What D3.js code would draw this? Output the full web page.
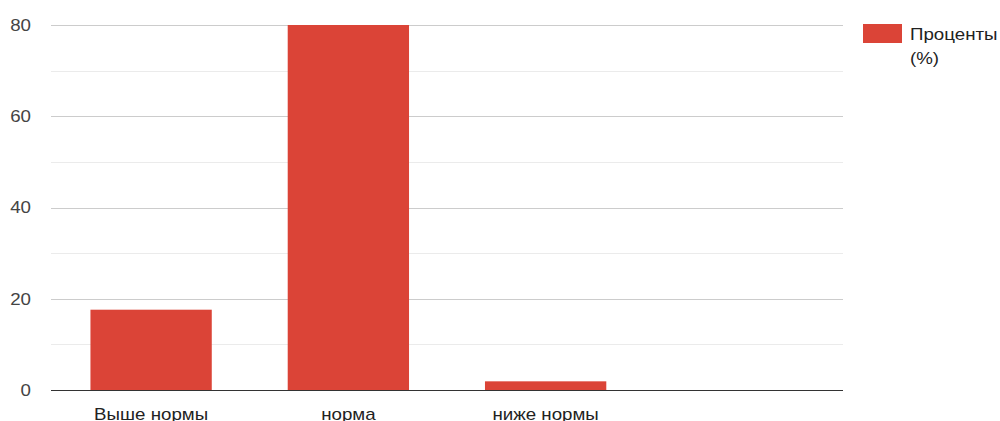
<!DOCTYPE html>
<html>
<head>
<meta charset="utf-8">
<script src="https://cdnjs.cloudflare.com/ajax/libs/d3/7.8.5/d3.min.js"></script>
<style>
  body { margin: 0; background: #fff; }
  text { font-family: "Liberation Sans", Arial, sans-serif; }
</style>
</head>
<body>
<script>
var categories = ["Выше нормы", "норма", "ниже нормы", ""];
var values = [17.6, 80, 1.9, null];
var yTicks = [0, 20, 40, 60, 80];
var yMinor = [10, 30, 50, 70];
var seriesName = ["Проценты", "(%)"];

var width = 1000, height = 421;
var plotLeft = 51, plotRight = 843, plotTop = 25, plotBottom = 390;
var barColor = "#db4437";
var stretch = 1.17; // reference glyphs are drawn a little wide

var svg = d3.select("body").append("svg")
	.attr("width", width)
	.attr("height", height);

var x = d3.scaleBand().domain(categories).range([plotLeft, plotRight]).paddingInner(0.385).paddingOuter(0.2);
var y = d3.scaleLinear().domain([0, 80]).range([plotBottom, plotTop]);

// minor gridlines
svg.selectAll("line.minor")
	.data(yMinor)
	.enter().append("line")
	.attr("x1", plotLeft).attr("x2", plotRight)
	.attr("y1", function (d) { return Math.round(y(d)) + 0.5; })
	.attr("y2", function (d) { return Math.round(y(d)) + 0.5; })
	.style("stroke", "#ebebeb");

// major gridlines
svg.selectAll("line.major")
	.data(yTicks.filter(function (d) { return d > 0; }))
	.enter().append("line")
	.attr("x1", plotLeft).attr("x2", plotRight)
	.attr("y1", function (d) { return Math.round(y(d)) + 0.5; })
	.attr("y2", function (d) { return Math.round(y(d)) + 0.5; })
	.style("stroke", "#cccccc");

// bars
svg.selectAll("rect.bar")
	.data(categories.map(function (c, i) { return {c: c, v: values[i]}; }).filter(function (d) { return d.v != null; }))
	.enter().append("rect")
	.attr("x", function (d) { return x(d.c); })
	.attr("width", x.bandwidth())
	.attr("y", function (d) { return y(d.v); })
	.attr("height", function (d) { return y(0) - y(d.v); })
	.style("fill", barColor);

// baseline
svg.append("line")
	.attr("x1", plotLeft).attr("x2", plotRight)
	.attr("y1", plotBottom + 0.5).attr("y2", plotBottom + 0.5)
	.style("stroke", "#333333");

function place(px, py) {
	return "translate(" + px + "," + py + ") scale(" + stretch + ",1)";
}

// y tick labels
svg.selectAll("text.ytick")
	.data(yTicks)
	.enter().append("text")
	.attr("transform", function (d) { return place(31, y(d)); })
	.attr("dy", "0.36em")
	.style("text-anchor", "end")
	.style("font-size", "16px")
	.style("fill", "#444")
	.text(function (d) { return d; });

// x labels (cut by the bottom edge, as in the reference)
svg.selectAll("text.xlabel")
	.data(categories)
	.enter().append("text")
	.attr("transform", function (d) { return place(x(d) + x.bandwidth() / 2, 420); })
	.style("text-anchor", "middle")
	.style("font-size", "16px")
	.style("fill", "#222")
	.text(function (d) { return d; });

// legend
svg.append("rect")
	.attr("x", 863).attr("y", 24)
	.attr("width", 39).attr("height", 19)
	.style("fill", barColor);

svg.selectAll("text.legend")
	.data(seriesName)
	.enter().append("text")
	.attr("transform", function (d, i) { return place(910, 40 + i * 24); })
	.style("font-size", "16px")
	.style("fill", "#222")
	.text(function (d) { return d; });
</script>
</body>
</html>
